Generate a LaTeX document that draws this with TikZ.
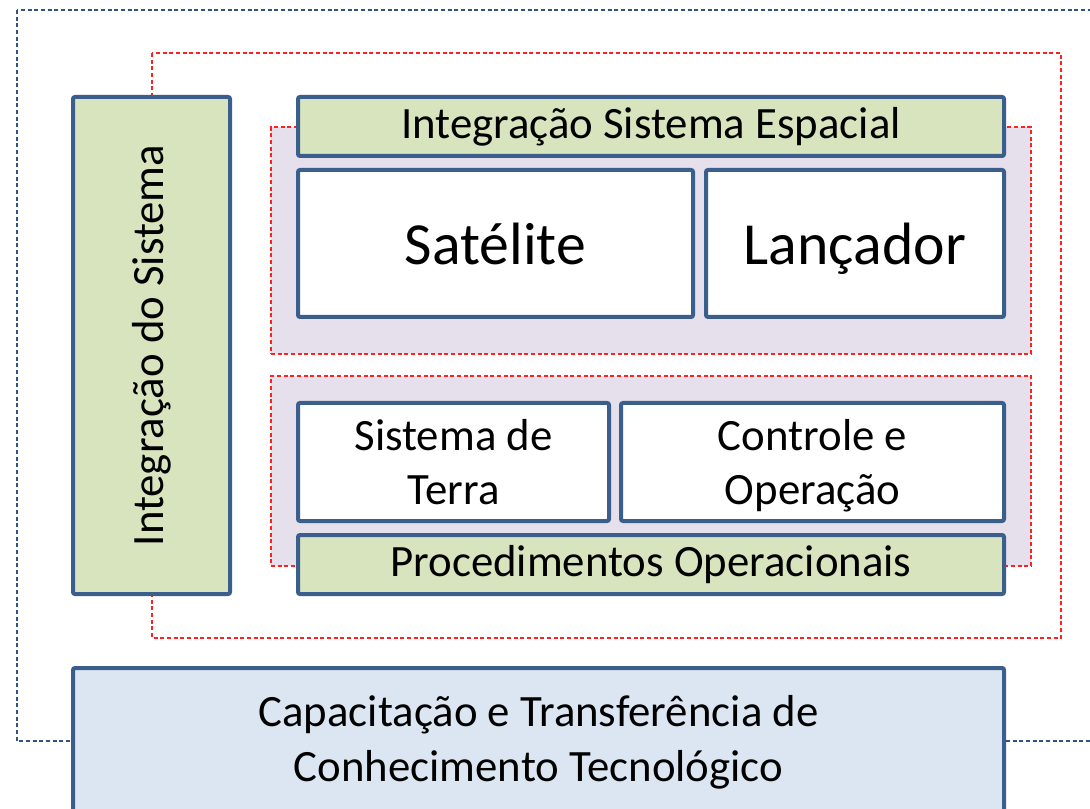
\documentclass[tikz,border=0pt]{standalone}
\usepackage{fontspec}
\usepackage{graphicx}
\setmainfont{Carlito}
\definecolor{bord}{HTML}{3A5F8C}
\definecolor{greenf}{HTML}{D7E4BD}
\definecolor{bluef}{HTML}{DCE6F2}
\definecolor{purplef}{HTML}{E6E0EC}
\definecolor{reddash}{HTML}{FF2020}
\definecolor{bluedash}{HTML}{2F5587}
\tikzset{
  box/.style={draw=bord, line width=3pt, rounded corners=1.5pt, inner sep=0pt, align=center, text=black},
  greenbox/.style={box, fill=greenf},
  whitebox/.style={box, fill=white},
  bluebox/.style={box, fill=bluef},
  region/.style={draw=reddash, fill=purplef, line width=0.8pt, dash pattern=on 3pt off 2pt, inner sep=0pt},
  redframe/.style={draw=reddash, line width=0.8pt, dash pattern=on 3pt off 2pt},
  blueframe/.style={draw=bluedash, line width=0.8pt, dash pattern=on 3pt off 2pt},
  midfont/.style={font=\fontsize{33.6}{41}\selectfont},
  bigfont/.style={font=\fontsize{44.8}{52}\selectfont},
  sz/.style 2 args={minimum width={#1*0.75pt}, minimum height={#2*0.75pt}},
}
\begin{document}
\begin{tikzpicture}[x=0.75pt,y=-0.75pt]
\clip (0,0) rectangle (1090,809);
\fill[white] (0,0) rectangle (1090,809);
% outer frames
\coordinate (bo1) at (17,10);
\coordinate (bo2) at (1120,741);
\draw[blueframe] (bo1) rectangle (bo2);
\coordinate (ro1) at (152,53);
\coordinate (ro2) at (1061,638);
\draw[redframe] (ro1) rectangle (ro2);
% regions
\node[region, sz={760}{227}] (reg1) at (651,240.5) {};
\node[region, sz={760}{190}] (reg2) at (651,471) {};
% boxes
\node[greenbox, midfont, sz={157}{497}] (integ) at (151.5,345.5) {\rotatebox{90}{Integração do Sistema}};
\node[greenbox, midfont, sz={706}{59}] (espacial) at (651,126.5) {Integração Sistema Espacial};
\node[whitebox, bigfont, sz={395}{147}, text depth=0pt] (sat) at (495.5,243.5) {Satélite};
\node[whitebox, bigfont, sz={298}{147}, text depth=0pt] (lanc) at (855,243.5) {Lançador};
\node[whitebox, midfont, sz={311}{118}] (terra) at (453.5,462) {Sistema de\\Terra};
\node[whitebox, midfont, sz={383}{118}, text depth=0pt] (ctrl) at (812.5,462) {Controle e\\Operação};
\node[greenbox, midfont, sz={706}{59}] (proc) at (651,564.5) {Procedimentos Operacionais};
\node[bluebox, midfont, sz={931}{214}, anchor=north] (cap) at (538.5,666) {};
\node[midfont, align=center, text=black] (captext) at (538.5,742) {Capacitação e Transferência de\\Conhecimento Tecnológico};
\end{tikzpicture}
\end{document}
